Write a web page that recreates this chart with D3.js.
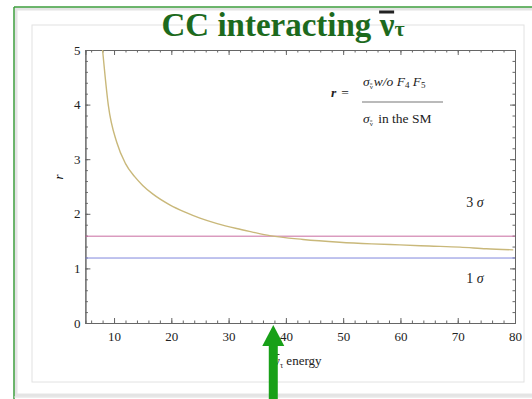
<!DOCTYPE html>
<html>
<head>
<meta charset="utf-8">
<script src="https://cdn.jsdelivr.net/npm/d3@7"></script>
<style>
  body { margin: 0; background: #fff; }
  text { font-family: "Liberation Serif", "DejaVu Serif", serif; }
</style>
</head>
<body>
<svg id="canvas" width="532" height="399"></svg>
<script>
// data
let energy = [8, 9, 10.5, 12, 13.6, 15, 16.8, 19.8, 22.4, 25, 28, 31.4, 34, 37.2, 43, 49.4, 55, 59.9, 65, 70.4, 75, 79.7]
let ratio  = [5, 3.99, 3.3, 2.92, 2.68, 2.52, 2.36, 2.16, 2.03, 1.92, 1.82, 1.73, 1.67, 1.6, 1.53, 1.48, 1.45, 1.43, 1.41, 1.39, 1.36, 1.34]
let sigmaLevels = [1.59, 1.19]
let sigmaLabels = ['3', '1']
let sigmaLabelY = [2.2, 0.8]
let xTicks = [10, 20, 30, 40, 50, 60, 70, 80]
let yTicks = [0, 1, 2, 3, 4, 5]

let canvas = d3.select('#canvas')

// overline helper: draws a bar above a text node
let bar = (node, dy, w) => {
  let b = node.getBBox()
  canvas.append('line').attr('x1', b.x + 0.5).attr('x2', b.x + b.width - 0.5)
    .attr('y1', b.y + dy).attr('y2', b.y + dy)
    .attr('stroke', d3.select(node).attr('fill') || '#222').attr('stroke-width', w)
}

// slide decoration
canvas.append('rect').attr('x', 16).attr('y', 9).attr('width', 530).attr('height', 386)
  .attr('fill', 'none').attr('stroke', '#e4e4e4').attr('stroke-width', 3)
canvas.append('line').attr('x1', 14).attr('y1', 7).attr('x2', 532).attr('y2', 7)
  .attr('stroke', '#3d9e3d').attr('stroke-width', 1.5)
canvas.append('line').attr('x1', 14).attr('y1', 7).attr('x2', 14).attr('y2', 399)
  .attr('stroke', '#3d9e3d').attr('stroke-width', 1.5)
canvas.append('line').attr('x1', 14).attr('y1', 397).attr('x2', 532).attr('y2', 397)
  .attr('stroke', '#ddd').attr('stroke-width', 1)
canvas.append('rect').attr('x', 32).attr('y', 25).attr('width', 492).attr('height', 357)
  .attr('fill', 'none').attr('stroke', '#e2e2e2').attr('stroke-width', 1)

// title
let title = canvas.append('text').attr('x', 283).attr('y', 36).attr('text-anchor', 'middle')
  .attr('fill', '#1d6a1d').attr('font-weight', 'bold').attr('font-size', 33)
title.append('tspan').text('CC interacting ')
let nuT = title.append('tspan').text('ν')
title.append('tspan').text('τ').attr('font-size', 22)
bar(nuT.node(), 5, 3)

// scales
let x = d3.scaleLinear().domain([5, 80]).range([85.4, 515])
let y = d3.scaleLinear().domain([0, 5]).range([323, 50])

let minorX = d3.range(6, 81, 2)
let minorY = d3.range(0, 5.01, 0.2)

let addAxis = (axis, transform, labels) => {
  let g = canvas.append('g').attr('transform', transform).call(axis)
  g.select('.domain').attr('stroke', '#666')
  g.selectAll('.tick line').attr('stroke', '#666')
  g.selectAll('text').attr('font-size', 13).attr('fill', '#222')
    .style('font-family', '"Liberation Serif", serif')
  if (!labels) g.selectAll('text').remove()
  return g
}

// bottom
addAxis(d3.axisBottom(x).tickValues(minorX).tickSize(-2.5).tickFormat(''), 'translate(0,323)', false)
addAxis(d3.axisBottom(x).tickValues(xTicks).tickSizeInner(-5).tickSizeOuter(0).tickPadding(9).tickFormat(d3.format('d')), 'translate(0,323)', true)
// top
addAxis(d3.axisTop(x).tickValues(minorX).tickSize(-2.5).tickFormat(''), 'translate(0,50)', false)
addAxis(d3.axisTop(x).tickValues(xTicks).tickSize(-5).tickFormat(''), 'translate(0,50)', false)
// left
addAxis(d3.axisLeft(y).tickValues(minorY).tickSize(-2.5).tickFormat(''), 'translate(85.4,0)', false)
addAxis(d3.axisLeft(y).tickValues(yTicks).tickSizeInner(-5).tickSizeOuter(0).tickPadding(5).tickFormat(d3.format('d')), 'translate(85.4,0)', true)
// right
addAxis(d3.axisRight(y).tickValues(minorY).tickSize(-2.5).tickFormat(''), 'translate(515,0)', false)
addAxis(d3.axisRight(y).tickValues(yTicks).tickSize(-5).tickFormat(''), 'translate(515,0)', false)

// sigma lines
let sigmaColors = ['#c86ca0', '#8088dd']
canvas.selectAll('.sigma').data(sigmaLevels).enter().append('line')
  .attr('x1', x(5)).attr('x2', x(80))
  .attr('y1', (d) => y(d)).attr('y2', (d) => y(d))
  .attr('stroke', (d, i) => sigmaColors[i]).attr('stroke-width', 1)

canvas.selectAll('.sigmaLabel').data(sigmaLabels).enter().append('text')
  .attr('x', x(73)).attr('y', (d, i) => y(sigmaLabelY[i]) + 4)
  .attr('text-anchor', 'middle').attr('font-size', 14).attr('fill', '#222')
  .each(function (d) {
    d3.select(this).append('tspan').text(d + ' ')
    d3.select(this).append('tspan').text('σ').attr('font-style', 'italic')
  })

// curve
let pts = energy.map((e, i) => [e, ratio[i]])
canvas.append('path').datum(pts)
  .attr('d', d3.line().x((d) => x(d[0])).y((d) => y(d[1])).curve(d3.curveMonotoneX))
  .attr('fill', 'none').attr('stroke', '#c9b87a').attr('stroke-width', 1.4)

// formula
let fs = 13.5
canvas.append('text').attr('x', 331).attr('y', 97).attr('font-size', fs).attr('fill', '#222')
  .attr('font-weight', 'bold').attr('font-style', 'italic')
  .text('r').append('tspan').attr('font-style', 'normal').attr('font-weight', 'normal').attr('dx', 5).text('=')
let num = canvas.append('text').attr('x', 363).attr('y', 86).attr('font-size', fs).attr('fill', '#222')
num.append('tspan').text('σ').attr('font-style', 'italic')
let nuN = num.append('tspan').text('ν').attr('font-size', 7).attr('dy', 3)
num.append('tspan').text('w/o F').attr('font-style', 'italic').attr('dy', -3).attr('dx', 1)
num.append('tspan').text('4').attr('font-size', 9).attr('dy', 2)
num.append('tspan').text(' F').attr('font-style', 'italic').attr('dy', -2)
num.append('tspan').text('5').attr('font-size', 9).attr('dy', 2)
bar(nuN.node(), 1, 0.7)
canvas.append('line').attr('x1', 362).attr('x2', 443).attr('y1', 102).attr('y2', 102)
  .attr('stroke', '#777').attr('stroke-width', 1.2)
let den = canvas.append('text').attr('x', 363).attr('y', 123).attr('font-size', fs).attr('fill', '#222')
den.append('tspan').text('σ').attr('font-style', 'italic')
let nuD = den.append('tspan').text('ν').attr('font-size', 7).attr('dy', 3)
den.append('tspan').text(' in the SM').attr('dy', -3).attr('dx', 2)
bar(nuD.node(), 1, 0.7)

// axis labels
canvas.append('text').attr('transform', 'translate(63,177) rotate(-90)')
  .attr('text-anchor', 'middle').attr('font-size', 13).attr('font-style', 'italic').text('r')
let xl = canvas.append('text').attr('x', 274).attr('y', 365).attr('font-size', 13).attr('fill', '#222')
let nuX = xl.append('tspan').text('ν')
xl.append('tspan').text('τ').attr('font-size', 8).attr('dy', 3)
xl.append('tspan').text(' energy').attr('dy', -3)
bar(nuX.node(), 1.5, 0.9)

// green arrow
let arrowX = x(37.8)
canvas.append('rect').attr('x', arrowX - 4.5).attr('y', 343).attr('width', 9).attr('height', 60)
  .attr('fill', '#18a018')
canvas.append('path')
  .attr('d', d3.line()([[arrowX, 325], [arrowX - 11, 346], [arrowX + 11, 346]]))
  .attr('fill', '#18a018')
</script>
</body>
</html>
